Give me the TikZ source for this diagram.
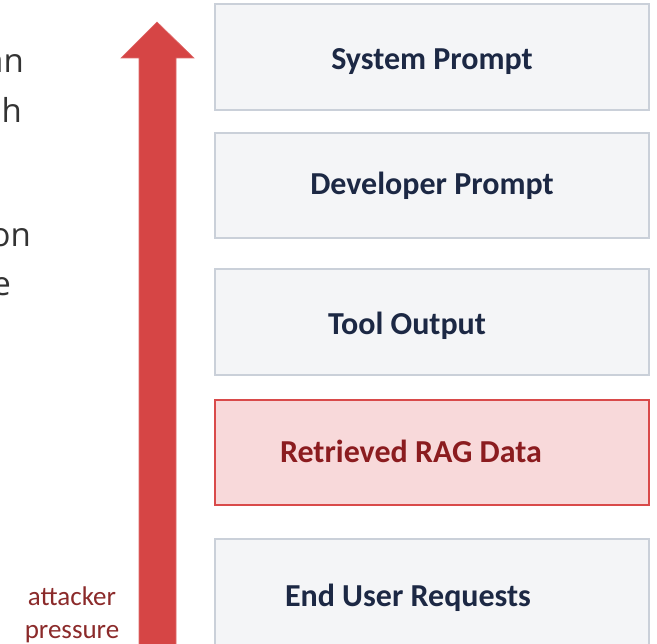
\documentclass[tikz,border=0pt]{standalone}
\usepackage{fontspec}
\setmainfont{Carlito}
\newfontfamily\leftfont{Open Sans}
\definecolor{boxfill}{HTML}{F4F5F7}
\definecolor{boxline}{HTML}{CAD0D9}
\definecolor{ragfill}{HTML}{F8D9DA}
\definecolor{ragline}{HTML}{D94A4A}
\definecolor{ragtext}{HTML}{8B1C1F}
\definecolor{navy}{HTML}{1C2844}
\definecolor{arrowred}{HTML}{D64545}
\definecolor{presstext}{HTML}{8B2A2A}
\definecolor{greytext}{HTML}{333333}
\tikzset{
  layerbox/.style={draw=boxline, fill=boxfill, line width=2.4pt, rectangle, inner sep=0pt},
  ragbox/.style={draw=ragline, fill=ragfill, line width=2.4pt, rectangle, inner sep=0pt},
  layertext/.style={font=\bfseries\fontsize{32}{38}\selectfont, text=navy, anchor=base, inner sep=0pt},
  ragtextstyle/.style={font=\bfseries\fontsize{32}{38}\selectfont, text=ragtext, anchor=base, inner sep=0pt},
  fragtext/.style={font=\leftfont\fontsize{33}{40}\selectfont, text=greytext, anchor=base east, inner sep=0pt},
  presslabel/.style={font=\fontsize{27}{32}\selectfont, text=presstext, align=center, anchor=base, inner sep=0pt},
}
\begin{document}
\begin{tikzpicture}[x=1pt,y=-1pt]
\useasboundingbox (0,0) rectangle (657,644);
\clip (0,0) rectangle (657,644);
% boxes
\node[layerbox, minimum width=434pt, minimum height=106pt] (b1) at (432,57) {};
\node[layerbox, minimum width=434pt, minimum height=105pt] (b2) at (432,185.5) {};
\node[layerbox, minimum width=434pt, minimum height=106pt] (b3) at (432,322) {};
\node[ragbox, minimum width=434pt, minimum height=105pt] (b4) at (432,452.5) {};
\node[layerbox, minimum width=434pt, minimum height=110pt] (b5) at (432,594) {};
% box texts
\node[layertext] (t1) at (432,70) {System Prompt};
\node[layertext] (t2) at (432,195) {Developer Prompt};
\node[layertext] (t3) at (407,335) {Tool Output};
\node[ragtextstyle] (t4) at (411,463) {Retrieved RAG Data};
\node[layertext] (t5) at (408,607) {End User Requests};
% arrow
\coordinate (tip) at (157,22);
\fill[arrowred, draw=arrowred!80!white, line width=0.6pt]
  (139,650) -- (139,58) -- (121,58) -- (tip) -- (194,58) -- (176,58) -- (176,650) -- cycle;
% attacker pressure label
\node[presslabel] (ap1) at (72,606) {attacker};
\node[presslabel] (ap2) at (72,638) {pressure};
% cut-off fragments of neighbouring text
\node[fragtext] (f1) at (24,73) {an};
\node[fragtext] (f2) at (22,123) {h};
\node[fragtext] (f3) at (31,247) {on};
\node[fragtext] (f4) at (11,296) {e};
\end{tikzpicture}
\end{document}
